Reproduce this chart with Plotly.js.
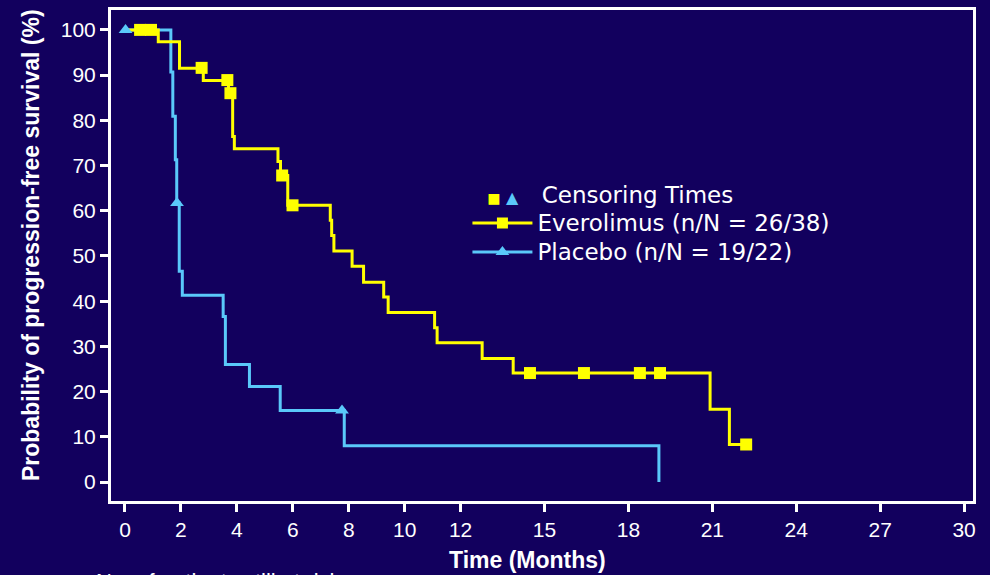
<!DOCTYPE html>
<html><head><meta charset="utf-8">
<script src="https://cdn.plot.ly/plotly-3.0.1.min.js"></script>
<style>html,body{margin:0;padding:0;background:#12005e;}</style>
</head><body><div id="chart" style="width:990px;height:575px;"></div>
<script>
// Everolimus Kaplan-Meier step points (time in months, survival %)
const evTime = [0, 1.19, 1.95, 2.80, 3.70, 3.85, 3.91, 5.47, 5.56, 5.82, 7.34, 7.39, 7.47, 8.12, 8.53, 9.25, 9.41, 11.07, 11.16, 12.77, 13.88, 20.92, 21.61, 22.21];
const evSurv = [100, 97.4, 91.5, 88.8, 86.0, 76.4, 73.7, 70.9, 67.8, 61.2, 57.9, 54.5, 51.1, 47.7, 44.2, 40.9, 37.5, 34.1, 30.8, 27.3, 24.1, 16.1, 8.3, 8.3];
const evCensorTime = [0.54, 0.93, 2.74, 3.66, 3.77, 5.62, 5.99, 14.48, 16.41, 18.41, 19.13, 22.21];
const evCensorSurv = [100, 100, 91.6, 88.9, 86.0, 67.8, 61.2, 24.1, 24.1, 24.1, 24.1, 8.3];

// Placebo Kaplan-Meier step points
const plTime = [0, 1.64, 1.71, 1.80, 1.85, 1.94, 2.05, 3.51, 3.59, 4.45, 5.55, 7.84, 19.09];
const plSurv = [100, 90.7, 80.9, 71.3, 61.7, 46.6, 41.3, 36.6, 26.0, 21.1, 15.8, 8.0, 0];
const plCensorTime = [0.02, 1.86, 7.76];
const plCensorSurv = [100, 61.7, 15.8];

const xTickVals = [0, 2, 4, 6, 8, 10, 12, 15, 18, 21, 24, 27, 30];
const yTickVals = [0, 10, 20, 30, 40, 50, 60, 70, 80, 90, 100];

const evName = 'Everolimus (n/N = 26/38)';
const plName = 'Placebo (n/N = 19/22)';
const censorLabel = 'Censoring Times';
const xTitle = 'Time (Months)';
const yTitle = 'Probability of progression-free survival (%)';
const riskLabel = 'No. of patients still at risk';

const BG = '#12005e';
const YEL = '#ffff00';
const BLU = '#5ac8fa';

const big = s => '<span style="font-size:23px">' + s + '</span>';

const traces = [
  {x: plTime, y: plSurv, mode: 'lines', line: {shape: 'hv', color: BLU, width: 3}, showlegend: false, hoverinfo: 'skip'},
  {x: evTime, y: evSurv, mode: 'lines', line: {shape: 'hv', color: YEL, width: 3}, showlegend: false, hoverinfo: 'skip'},
  {x: plCensorTime, y: plCensorSurv, mode: 'markers', marker: {symbol: 'triangle-up', color: BLU, size: 12}, showlegend: false},
  {x: evCensorTime, y: evCensorSurv, mode: 'markers', marker: {symbol: 'square', color: YEL, size: 12}, showlegend: false},
  {x: [null], y: [null], mode: 'lines+markers', name: big(evName), line: {color: YEL, width: 3}, marker: {symbol: 'square', color: YEL, size: 11}},
  {x: [null], y: [null], mode: 'lines+markers', name: big(plName), line: {color: BLU, width: 3}, marker: {symbol: 'triangle-up', color: BLU, size: 12}}
];

const tickFont = {family: 'Liberation Sans, Arial, sans-serif', size: 21, color: 'white'};
const axisCommon = {
  showline: true, mirror: true, linecolor: 'white', linewidth: 3,
  ticks: 'outside', ticklen: 8, tickwidth: 3, tickcolor: 'white',
  tickfont: tickFont, showgrid: false, zeroline: false, fixedrange: true
};

const legendTitle = '<span style="font-size:28px">  </span>' +
  '<span style="color:' + YEL + ';font-size:14px">■</span>' +
  '<span style="font-size:17px"> </span>' +
  '<span style="color:' + BLU + ';font-size:16px">▲</span>' +
  '<span style="font-size:37px">  </span>' + big(censorLabel);

const layout = {
  width: 990, height: 575,
  paper_bgcolor: BG, plot_bgcolor: BG,
  margin: {l: 111, r: 17, t: 10, b: 74},
  xaxis: Object.assign({}, axisCommon, {range: [-0.5, 30.32], tickvals: xTickVals, ticktext: xTickVals.map(String)}),
  yaxis: Object.assign({}, axisCommon, {range: [-4.2, 104.4], tickvals: yTickVals, ticktext: yTickVals.map(String)}),
  showlegend: true,
  legend: {
    x: 0.4135, y: 0.659, xanchor: 'left', yanchor: 'top',
    bgcolor: 'rgba(0,0,0,0)', borderwidth: 0,
    itemwidth: 60, tracegroupgap: 0,
    font: {family: 'DejaVu Sans', size: 20, color: 'white'},
    title: {text: legendTitle, side: 'top', font: {family: 'DejaVu Sans', size: 20, color: 'white'}}
  },
  annotations: [
    {text: '<b>' + xTitle + '</b>', xref: 'paper', yref: 'paper', x: 0.4826, y: -0.12, xanchor: 'center', yanchor: 'middle', showarrow: false, font: {family: 'Liberation Sans, Arial, sans-serif', size: 23, color: 'white'}},
    {text: '<b>' + yTitle + '</b>', xref: 'paper', yref: 'paper', x: -0.093, y: 0.521, xanchor: 'center', yanchor: 'middle', textangle: -90, showarrow: false, font: {family: 'Liberation Sans, Arial, sans-serif', size: 23, color: 'white'}},
    {text: riskLabel, xref: 'paper', yref: 'paper', x: -0.0203, y: -0.134, xanchor: 'left', yanchor: 'top', showarrow: false, font: {family: 'Liberation Sans, Arial, sans-serif', size: 22, color: 'white'}}
  ]
};

Plotly.newPlot('chart', traces, layout, {displayModeBar: false, staticPlot: true});
</script>
</body></html>
